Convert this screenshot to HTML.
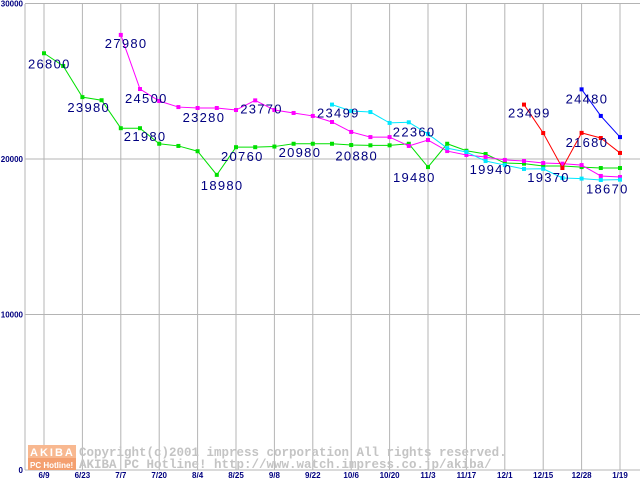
<!DOCTYPE html>
<html><head><meta charset="utf-8"><style>
body{margin:0;background:#fff;}
svg{display:block;font-family:"Liberation Sans",sans-serif;}
</style></head><body>
<svg id="chart" width="640" height="480" viewBox="0 0 640 480">
<g id="grid"></g>
<g id="wm">
<rect x="28" y="445" width="48" height="13" fill="#f8b890"/>
<rect x="28" y="458" width="48" height="12" fill="#f4a070"/>
<text x="30" y="456" font-size="11" fill="#fff" font-weight="bold" letter-spacing="2">AKIBA</text>
<text x="30" y="468" font-size="8" fill="#fff" font-weight="bold">PC Hotline!</text>
<text x="79" y="456" font-size="12.5" fill="#c4c4c4" font-weight="bold" font-family="Liberation Mono,monospace">Copyright(c)2001 impress corporation All rights reserved.</text>
<text x="79" y="468" font-size="12.5" fill="#c4c4c4" font-weight="bold" font-family="Liberation Mono,monospace">AKIBA PC Hotline!  http://www.watch.impress.co.jp/akiba/</text>
</g>
<g id="series"></g>
<g id="labels"></g>
</svg>
<script>
const xLabels=["6/9","6/23","7/7","7/20","8/4","8/25","9/8","9/22","10/6","10/20","11/3","11/17","12/1","12/15","12/28","1/19"];
const yTicks=[0,10000,20000,30000];
const greenStart=0;
const greenVals=[26800,25980,23980,23780,21980,21980,20980,20840,20500,18980,20760,20760,20800,20980,20980,20980,20900,20880,20880,20980,19480,20980,20530,20320,19740,19700,19550,19550,19480,19420,19420];
const magentaStart=4;
const magentaVals=[27980,24500,23730,23340,23280,23280,23150,23770,23150,22960,22770,22380,21740,21410,21410,20840,21220,20510,20260,20130,19940,19870,19740,19700,19610,18910,18840];
const cyanStart=15;
const cyanVals=[23499,23090,23020,22320,22360,21610,20700,20450,19870,19610,19360,19370,18780,18740,18650,18670];
const redStart=25;
const redVals=[23499,21670,19420,21680,21350,20390];
const blueStart=28;
const blueVals=[24480,22770,21410];
const valueLabels=[[0,26800,-16,15],[2,23980,-15,15],[4,27980,-16,13],[5,24500,-15,14],[4,21980,3,13],[8,23280,-15,14],[9,18980,-16,15],[10,20760,-15,14],[11,23770,-15,13],[13,20980,-15,13],[15,23499,-15,13],[17,20880,-35,15],[19,22360,-16,14],[20,19480,-35,15],[23,19940,-16,14],[26,19370,-16,13],[25,23499,-16,13],[28,21680,-16,14],[28,24480,-16,14],[30,18670,-34,14]];
const NS="http://www.w3.org/2000/svg";
function X(i){return 44+19.2*i;}
function Y(v){return 470-v*0.01555;}
function mk(tag,attrs,parent){const e=document.createElementNS(NS,tag);for(const k in attrs)e.setAttribute(k,attrs[k]);parent.appendChild(e);return e;}
const grid=document.getElementById('grid');
yTicks.forEach(t=>{
 const l=mk('line',{x1:25,x2:640,y1:Y(t),y2:Y(t),stroke:'#b4b4b4','stroke-width':1},grid);
 
 
 const tx=mk('text',{x:23,y:Y(t)+3,'text-anchor':'end','font-size':8,'font-weight':'bold',fill:'#000080'},grid);
 tx.textContent=t;
 
 
});
xLabels.forEach((lab,k)=>{
 const x=X(2*k);
 const l=mk('line',{x1:x,x2:x,y1:4,y2:470,stroke:'#b4b4b4','stroke-width':1},grid);
 
 
 const tx=mk('text',{x:x,y:478,'text-anchor':'middle','font-size':8,'font-weight':'bold',fill:'#000080'},grid);
 tx.textContent=lab;
 
 
});
const ax=mk('line',{x1:25,x2:25,y1:4,y2:470,stroke:'#b4b4b4','stroke-width':1},grid);


const ser=document.getElementById('series');
function draw(start,vals,color,name){
 const pts=vals.map((v,j)=>X(start+j)+','+Y(v)).join(' ');
 const pl=mk('polyline',{points:pts,fill:'none',stroke:color,'stroke-width':1},ser);
 
 
 vals.forEach((v,j)=>{
  const r=mk('rect',{x:X(start+j)-2,y:Y(v)-2,width:4,height:4,fill:color},ser);
  
  
 });
}
draw(greenStart,greenVals,'#00e000','green-series');
draw(magentaStart,magentaVals,'#ff00ff','magenta-series');
draw(cyanStart,cyanVals,'#00e8ff','cyan-series');
draw(redStart,redVals,'#ff0000','red-series');
draw(blueStart,blueVals,'#0000ff','blue-series');
const lg=document.getElementById('labels');
valueLabels.forEach(([i,v,dx,dy])=>{
 const t=mk('text',{x:X(i)+dx,y:Y(v)+dy,'font-size':13,'letter-spacing':1.3,fill:'#000080'},lg);
 t.textContent=v;
 
 
});
</script>
</body></html>
